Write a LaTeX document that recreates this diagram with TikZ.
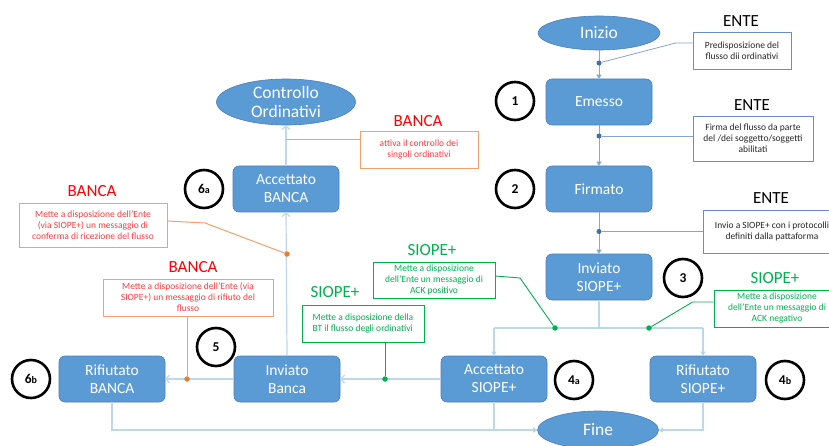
\documentclass[tikz,border=0pt]{standalone}
\usepackage{fontspec}
\setmainfont{Carlito}
\usetikzlibrary{shapes.geometric,arrows.meta}
\definecolor{boxfill}{HTML}{5B9BD5}
\definecolor{boxborder}{HTML}{4A7EBB}
\definecolor{mainln}{HTML}{7FA9DA}
\definecolor{lightln}{HTML}{BDD7EE}
\definecolor{entebd}{HTML}{6A8CC7}
\definecolor{entedot}{HTML}{3F6FA8}
\definecolor{sgreen}{HTML}{00B050}
\definecolor{borange}{HTML}{F4A06A}
\definecolor{dorange}{HTML}{E0803A}
\definecolor{bred}{HTML}{FF0000}
\definecolor{tred}{HTML}{FF3B3B}
\tikzset{
  stepbox/.style={draw=boxborder, line width=0.6pt, fill=boxfill, rounded corners=6pt,
    minimum width=106pt, minimum height=46pt, inner sep=0pt, align=center, text=white,
    font=\fontsize{15.5}{18}\selectfont},
  ellnode/.style={ellipse, draw=boxborder, line width=0.6pt, fill=boxfill, inner sep=0pt,
    align=center, text=white, font=\fontsize{17.5}{19.5}\selectfont},
  numc/.style={circle, draw=black, line width=2.6pt, minimum size=38pt, inner sep=0pt,
    font=\fontsize{13.5}{13.5}\selectfont\bfseries},
  entenote/.style={draw=entebd, line width=0.8pt, inner sep=0pt, align=center,
    text=black!85, font=\fontsize{9.5}{11}\selectfont},
  greennote/.style={draw=sgreen, line width=0.8pt, inner sep=0pt, align=center,
    text=sgreen, font=\fontsize{9.5}{11}\selectfont},
  bancanote/.style={draw=borange, line width=0.8pt, inner sep=0pt, align=center,
    text=tred, font=\fontsize{9.5}{11}\selectfont},
  entelbl/.style={text=black, font=\fontsize{17}{17}\selectfont},
  siopelbl/.style={text=sgreen, font=\fontsize{17}{17}\selectfont},
  bancalbl/.style={text=bred, font=\fontsize{17}{17}\selectfont},
  mainflow/.style={draw=mainln, line width=1pt, -{Triangle[length=4pt,width=5pt]}},
  lightflow/.style={draw=lightln, line width=1.2pt, -{Triangle[length=4pt,width=5pt,fill=mainln]}},
  lightplain/.style={draw=lightln, line width=1.2pt},
  openflow/.style={draw=lightln, line width=1.2pt, -{Straight Barb[length=3.5pt,width=8pt]}},
  entelink/.style={draw=entebd!80, line width=0.8pt},
  greenlink/.style={draw=sgreen, line width=0.9pt},
  orangelink/.style={draw=borange, line width=1pt},
  edot/.style={circle, fill=entedot, inner sep=0pt, minimum size=5pt},
  gdot/.style={circle, fill=sgreen, inner sep=0pt, minimum size=5.5pt},
  odot/.style={circle, fill=dorange, inner sep=0pt, minimum size=5.5pt},
}
\begin{document}
\begin{tikzpicture}[x=1pt,y=-1pt]
\useasboundingbox (0,0) rectangle (829,446);
\clip (0,0) rectangle (829,446);
\fill[white] (0,0) rectangle (829,446);

% main states
\node[ellnode, minimum width=122pt, minimum height=34pt] (inizio) at (599,33) {Inizio};
\node[stepbox] (emesso) at (599,102) {Emesso};
\node[stepbox] (firmato) at (599,189) {Firmato};
\node[stepbox] (invsiope) at (599,277) {Inviato\\SIOPE+};
\node[stepbox] (accsiope) at (494,379) {Accettato\\SIOPE+};
\node[stepbox] (rifsiope) at (703,379) {Rifiutato\\SIOPE+};
\node[ellnode, minimum width=121pt, minimum height=38pt] (fine) at (598,430) {Fine};
\node[stepbox] (invbanca) at (287,379) {Inviato\\Banca};
\node[stepbox] (rifbanca) at (112,379) {Rifiutato\\BANCA};
\node[stepbox] (accbanca) at (286,189) {Accettato\\BANCA};
\node[ellnode, minimum width=139pt, minimum height=46pt] (controllo) at (286,102) {Controllo\\Ordinativi};

% number circles
\node[numc] (c1) at (515,101) {1};
\node[numc] (c2) at (515,189) {2};
\node[numc] (c3) at (683,278) {3};
\node[numc] (c4a) at (574,380) {4{\fontsize{10}{10}\selectfont a}};
\node[numc] (c4b) at (785,380) {4{\fontsize{10}{10}\selectfont b}};
\node[numc] (c5) at (216,347) {5};
\node[numc] (c6a) at (204,189) {6{\fontsize{10}{10}\selectfont a}};
\node[numc] (c6b) at (31,379) {6{\fontsize{10}{10}\selectfont b}};

% ENTE notes
\node[entelbl] (l1) at (741,21) {ENTE};
\node[entenote, minimum width=98pt, minimum height=37pt] (n1) at (742,50.5) {Predisposizione del\\flusso dii ordinativi};
\node[entelbl] (l2) at (752,105) {ENTE};
\node[entenote, minimum width=120pt, minimum height=45pt] (n2) at (753,138.5) {Firma del flusso da parte\\del /dei soggetto/soggetti\\abilitati};
\node[entelbl] (l3) at (771,198) {ENTE};
\node[entenote, minimum width=138pt, minimum height=43pt] (n3) at (772,231.5) {Invio a SIOPE+ con i protocolli\\definiti dalla pattaforma};

% SIOPE+ notes
\node[siopelbl] (l4) at (775,278) {SIOPE+};
\node[greennote, minimum width=126pt, minimum height=37pt] (n4) at (777,308.5) {Mette a disposizione\\dell'Ente un messaggio di\\ACK negativo};
\node[siopelbl] (l5) at (432,250) {SIOPE+};
\node[greennote, minimum width=122pt, minimum height=36pt] (n5) at (434,280) {Mette a disposizione\\dell'Ente un messaggio di\\ACK positivo};
\node[siopelbl] (l6) at (335,292) {SIOPE+};
\node[greennote, minimum width=122pt, minimum height=37pt, align=left] (n6) at (363,323.5) {Mette a disposizione della\\BT il flusso degli ordinativi};

% BANCA notes
\node[bancalbl] (l7) at (418,121) {BANCA};
\node[bancanote, minimum width=118pt, minimum height=37pt] (n7) at (419,149.5) {attiva il controllo dei\\singoli ordinativi};
\node[bancalbl] (l8) at (92,191) {BANCA};
\node[bancanote, minimum width=148pt, minimum height=44pt] (n8) at (93,225) {Mette a disposizione dell'Ente\\(via SIOPE+) un messaggio di\\conferma di ricezione del flusso};
\node[bancalbl] (l9) at (193,267) {BANCA};
\node[bancanote, minimum width=170pt, minimum height=37pt] (n9) at (188,297.5) {Mette a disposizione dell'Ente (via\\SIOPE+) un messaggio di rifiuto del\\flusso};

% coordinates
\coordinate (fork) at (599,328);
\coordinate (forkl) at (494,328);
\coordinate (forkr) at (703,328);

% main flow
\draw[mainflow] (inizio) -- (emesso);
\draw[mainflow] (emesso) -- (firmato);
\draw[mainflow] (firmato) -- (invsiope);
\draw[lightplain] (invsiope.south) -- (fork);
\draw[lightplain] (forkl) -- (forkr);
\draw[lightflow] (forkl) -- (accsiope.north);
\draw[lightflow] (forkr) -- (rifsiope.north);
\draw[lightflow] (accsiope.south) |- (fine.west);
\draw[lightflow] (rifsiope.south) |- (fine.east);
\draw[lightflow] (rifbanca.south) |- (fine.west);
\draw[openflow] (accsiope.west) -- (invbanca.east);
\draw[openflow] (invbanca.west) -- (rifbanca.east);
\draw[openflow] (invbanca.north) -- (accbanca.south);
\draw[openflow] (accbanca.north) -- (controllo.south);

% ENTE links
\node[edot] (d1) at (599,63) {};
\draw[entelink] ([yshift=7.5pt]n1.west) -- ++(-17,0) -- (d1);
\node[edot] (d2) at (599,136) {};
\draw[entelink] ([yshift=2.5pt]n2.west) -- (d2);
\node[edot] (d3) at (599,231.5) {};
\draw[entelink] (n3.west) -- (d3);

% SIOPE+ links
\node[gdot] (g1) at (649,328) {};
\draw[greenlink] ([yshift=6.5pt]n4.west) -- ++(-21,0) -- (g1);
\node[gdot] (g2) at (555,328) {};
\draw[greenlink] ([yshift=4pt]n5.east) -- (520,278) -- (g2);
\node[gdot] (g3) at (385,379) {};
\draw[greenlink] (g3 |- n6.south) -- (g3);

% BANCA links
\draw[orangelink] ([yshift=9.5pt]n7.west) -- (286,140);
\node[odot] (o1) at (287,254) {};
\draw[orangelink] ([yshift=4pt]n8.east) -- (205,223) -- (o1);
\node[odot] (o2) at (187,379) {};
\draw[orangelink] (o2 |- n9.south) -- (o2);
\end{tikzpicture}
\end{document}
